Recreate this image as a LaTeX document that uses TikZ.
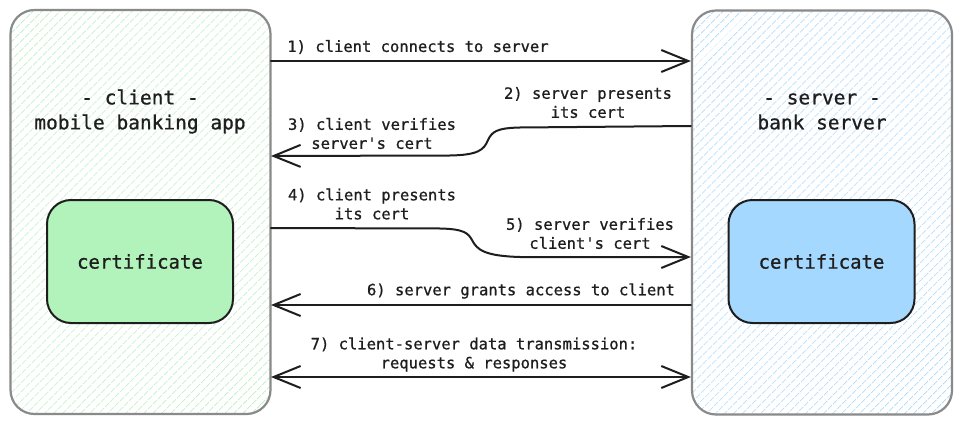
\documentclass[tikz,border=0pt]{standalone}
\usepackage{fontspec}
\setmainfont{DejaVu Sans Mono}[BoldFont={DejaVu Sans Mono}, BoldFeatures={FakeBold=0.8}]
\usetikzlibrary{arrows.meta,patterns.meta}
\definecolor{ink}{HTML}{1E1E1E}
\definecolor{frame}{HTML}{8A8A8A}
\definecolor{hgreen}{HTML}{BEF2C5}
\definecolor{hblue}{HTML}{B0DCFC}
\definecolor{cgreen}{HTML}{B2F2BB}
\definecolor{cblue}{HTML}{A5D8FF}
\tikzset{
  party/.style={draw=frame, line width=2.2pt, rounded corners=24pt, minimum width=260pt, minimum height=404pt, inner sep=0pt},
  hatch/.style={pattern={Lines[angle=45,distance=6.5pt,line width=0.9pt]}},
  certbox/.style={draw=ink, line width=2pt, rounded corners=24pt, minimum width=186pt, minimum height=123pt, inner sep=0pt, text=ink, font=\fontsize{19}{23}\selectfont\bfseries},
  title/.style={align=center, text=ink, inner sep=0pt, font=\fontsize{19.5}{25}\selectfont\bfseries},
  lbl/.style={align=center, text=ink, inner sep=0pt, font=\fontsize{15.5}{19}\selectfont\bfseries},
  msg/.style={draw=ink, line width=2pt, line cap=round, -{Straight Barb[length=27pt,width=22pt,line width=2pt]}},
  msgboth/.style={draw=ink, line width=2pt, line cap=round, {Straight Barb[length=27pt,width=22pt,line width=2pt]}-{Straight Barb[length=27pt,width=22pt,line width=2pt]}}
}
\begin{document}
\begin{tikzpicture}[x=1pt,y=-1pt]
\useasboundingbox[fill=white] (0,0) rectangle (961,425);
% parties
\node[party, hatch, pattern color=hgreen] (client) at (140.5,212) {};
\node[party, hatch, pattern color=hblue] (server) at (822,212.5) {};
% titles
\node[title] (ctitle) at (140,111.5) {- client -\\mobile banking app};
\node[title] (stitle) at (822,111.5) {- server -\\bank server};
% certificates
\node[certbox, fill=cgreen] (ccert) at (140,261.5) {certificate};
\node[certbox, fill=cblue] (scert) at (821.5,261.5) {certificate};
% labels
\node[lbl] (l1) at (418,47) {1) client connects to server};
\node[lbl] (l2) at (588,102.5) {2) server presents\\its cert};
\node[lbl] (l3) at (372,133.5) {3) client verifies\\server\textquotesingle s cert};
\node[lbl] (l4) at (372,204) {4) client presents\\its cert};
\node[lbl] (l5) at (590,233.5) {5) server verifies\\client\textquotesingle s cert};
\node[lbl] (l6) at (521,291) {6) server grants access to client};
\node[lbl] (l7) at (474,354.5) {7) client-server data transmission:\\requests \& responses};
% connectors
\draw[msg] (client.east |- 0,61) -- (server.west |- 0,61);
\draw[msg] (server.west |- 0,126) -- (520,127.5) .. controls (496,128) and (492,132) .. (488,140) .. controls (484,150) and (478,155) .. (450,155.5) -- (client.east |- 0,156);
\draw[msg] (client.east |- 0,228) -- (440,228.5) .. controls (464,229) and (468,233) .. (472,240) .. controls (477,250) and (485,256) .. (520,257) -- (server.west |- 0,257);
\draw[msg] (server.west |- 0,305) -- (client.east |- 0,305);
\draw[msgboth] (client.east |- 0,377) -- (server.west |- 0,377);
\end{tikzpicture}
\end{document}
